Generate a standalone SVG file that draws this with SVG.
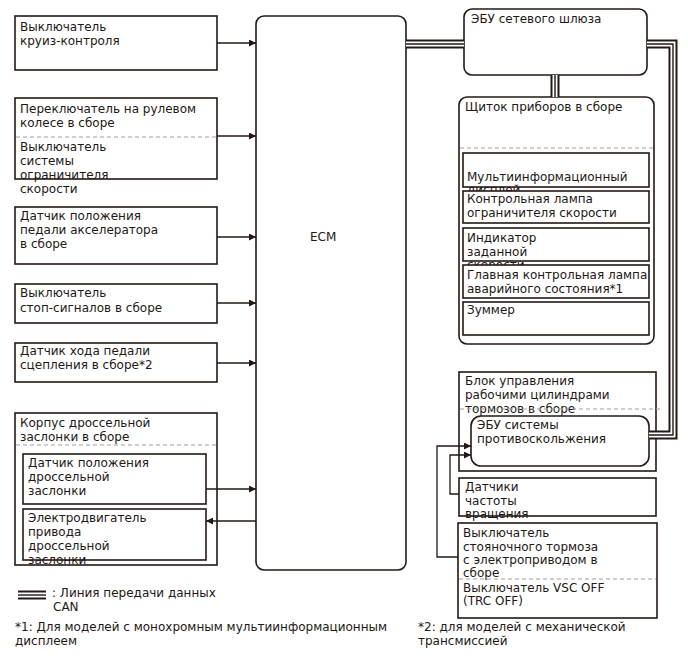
<svg xmlns="http://www.w3.org/2000/svg" width="688" height="658" viewBox="0 0 688 658">
<defs>
<marker id="ah" viewBox="0 0 10 10" refX="10" refY="5" markerWidth="9" markerHeight="7" markerUnits="userSpaceOnUse" orient="auto"><path d="M0,0 L10,5 L0,10 z" fill="#231815"/></marker>
<style>
text{font-family:"DejaVu Sans","Noto Sans",sans-serif;font-size:12px;fill:#231815}
.b{fill:#fff;stroke:#231815;stroke-width:1.6}
.d{stroke:#a0a0a0;stroke-width:1.2;stroke-dasharray:4 3;fill:none}
.c{fill:none;stroke:#231815;stroke-width:1.3}
.a{fill:none;stroke:#231815;stroke-width:1.3;marker-end:url(#ah)}
.k1{fill:none;stroke:#231815;stroke-width:9}
.k2{fill:none;stroke:#fff;stroke-width:5}
.k3{fill:none;stroke:#231815;stroke-width:1.4}
</style>
</defs>
<rect width="688" height="658" fill="#fff"/>

<g id="cruise">
<rect class="b" x="15" y="16" width="202" height="54"/>
<text x="20" y="31">Выключатель</text>
<text x="20" y="45">круиз-контроля</text>
</g>

<g id="steering">
<rect class="b" x="15" y="98" width="202" height="81"/>
<text x="20" y="113">Переключатель на рулевом</text>
<text x="20" y="127">колесе в сборе</text>
<line class="d" x1="16" y1="137" x2="216" y2="137"/>
<text x="20" y="151">Выключатель</text>
<text x="20" y="165">системы</text>
<text x="20" y="179">ограничителя</text>
<text x="20" y="193">скорости</text>
</g>

<g id="accel">
<rect class="b" x="15" y="207" width="202" height="57"/>
<text x="20" y="220">Датчик положения</text>
<text x="20" y="234">педали акселератора</text>
<text x="20" y="248">в сборе</text>
</g>

<g id="stop">
<rect class="b" x="15" y="284" width="202" height="39"/>
<text x="20" y="297">Выключатель</text>
<text x="20" y="312">стоп-сигналов в сборе</text>
</g>

<g id="clutch">
<rect class="b" x="15" y="343" width="202" height="39"/>
<text x="20" y="355">Датчик хода педали</text>
<text x="20" y="369">сцепления в сборе*2</text>
</g>

<g id="throttle">
<rect class="b" x="15" y="413" width="202" height="152"/>
<text x="20" y="427">Корпус дроссельной</text>
<text x="20" y="441">заслонки в сборе</text>
<line class="d" x1="16" y1="445" x2="216" y2="445"/>
</g>
<g id="tps">
<rect class="b" x="23" y="454" width="183" height="50"/>
<text x="28" y="467">Датчик положения</text>
<text x="28" y="481">дроссельной</text>
<text x="28" y="495">заслонки</text>
</g>
<g id="motor">
<rect class="b" x="23" y="509" width="183" height="51"/>
<text x="28" y="522">Электродвигатель</text>
<text x="28" y="536">привода</text>
<text x="28" y="550">дроссельной</text>
<text x="28" y="564">заслонки</text>
</g>

<g id="ecm">
<rect class="b" x="256" y="16" width="150" height="554" rx="8"/>
<text x="310" y="241">ECM</text>
</g>

<g id="gateway">
<rect class="b" x="464" y="9" width="183" height="66" rx="8"/>
<text x="471" y="23">ЭБУ сетевого шлюза</text>
</g>

<g id="cluster">
<rect class="b" x="459" y="97" width="195" height="247" rx="8"/>
<text x="465" y="111">Щиток приборов в сборе</text>
<line class="d" x1="460" y1="148" x2="653" y2="148"/>
</g>
<g id="mid">
<rect class="b" x="463" y="153" width="186" height="34"/>
<text x="467" y="181">Мультиинформационный</text>
<text x="467" y="194">дисплей</text>
</g>
<g id="speedlamp">
<rect class="b" x="463" y="191" width="186" height="32"/>
<text x="467" y="203">Контрольная лампа</text>
<text x="467" y="217">ограничителя скорости</text>
</g>
<g id="setind">
<rect class="b" x="463" y="228" width="186" height="33"/>
<text x="467" y="242">Индикатор</text>
<text x="467" y="256">заданной</text>
<text x="467" y="269">скорости</text>
</g>
<g id="master">
<rect class="b" x="463" y="265" width="186" height="33"/>
<text x="467" y="279">Главная контрольная лампа</text>
<text x="467" y="293">аварийного состояния*1</text>
</g>
<g id="buzzer">
<rect class="b" x="463" y="302" width="186" height="33"/>
<text x="467" y="314">Зуммер</text>
</g>

<g id="brake">
<rect class="b" x="459" y="372" width="197" height="99"/>
<text x="465" y="385">Блок управления</text>
<text x="465" y="399">рабочими цилиндрами</text>
<text x="465" y="413">тормозов в сборе</text>
<line class="d" x1="460" y1="409" x2="661" y2="409"/>
</g>
<g id="skid">
<rect class="b" x="471" y="416" width="178" height="50" rx="10"/>
<text x="477" y="429">ЭБУ системы</text>
<text x="477" y="443">противоскольжения</text>
</g>

<g id="speedsensor">
<rect class="b" x="459" y="478" width="197" height="38"/>
<text x="465" y="491">Датчики</text>
<text x="465" y="505">частоты</text>
<text x="465" y="518">вращения</text>
</g>

<g id="parking">
<rect class="b" x="458" y="523" width="199" height="95"/>
<text x="463" y="537">Выключатель</text>
<text x="463" y="551">стояночного тормоза</text>
<text x="463" y="564">с электроприводом в</text>
<text x="463" y="577">сборе</text>
<line class="d" x1="459" y1="579" x2="656" y2="579"/>
<text x="463" y="592">Выключатель VSC OFF</text>
<text x="463" y="605">(TRC OFF)</text>
</g>

<g id="connectors">
<line class="a" x1="217" y1="43" x2="256" y2="43"/>
<line class="a" x1="217" y1="136" x2="256" y2="136"/>
<line class="a" x1="217" y1="237" x2="256" y2="237"/>
<line class="a" x1="217" y1="303" x2="256" y2="303"/>
<line class="a" x1="217" y1="363" x2="256" y2="363"/>
<line class="a" x1="206" y1="489" x2="256" y2="489"/>
<line class="a" x1="256" y1="521" x2="206" y2="521"/>
<path class="a" d="M459,494 H450 V455 H471"/>
<path class="a" d="M458,557 H437 V446 H471"/>
<g id="can">
<path class="k1" d="M406,44 H464"/>
<path class="k2" d="M406,44 H464"/>
<path class="k3" d="M406,44 H464"/>
<path class="k1" d="M555,75 V97"/>
<path class="k2" d="M555,75 V97"/>
<path class="k3" d="M555,75 V97"/>
<path class="k1" d="M647,44 H673 V435 H649"/>
<path class="k2" d="M647,44 H673 V435 H649"/>
<path class="k3" d="M647,44 H673 V435 H649"/>
</g>
</g>

<g id="legend">
<path class="k1" d="M18,595 H46"/>
<path class="k2" d="M18,595 H46"/>
<path class="k3" d="M18,595 H46"/>
<text x="52" y="597">: Линия передачи данных</text>
<text x="53" y="611">CAN</text>
<text x="15" y="631">*1: Для моделей с монохромным мультиинформационным</text>
<text x="15" y="645">дисплеем</text>
<text x="418" y="631">*2: для моделей с механической</text>
<text x="418" y="645">трансмиссией</text>
</g>
</svg>
